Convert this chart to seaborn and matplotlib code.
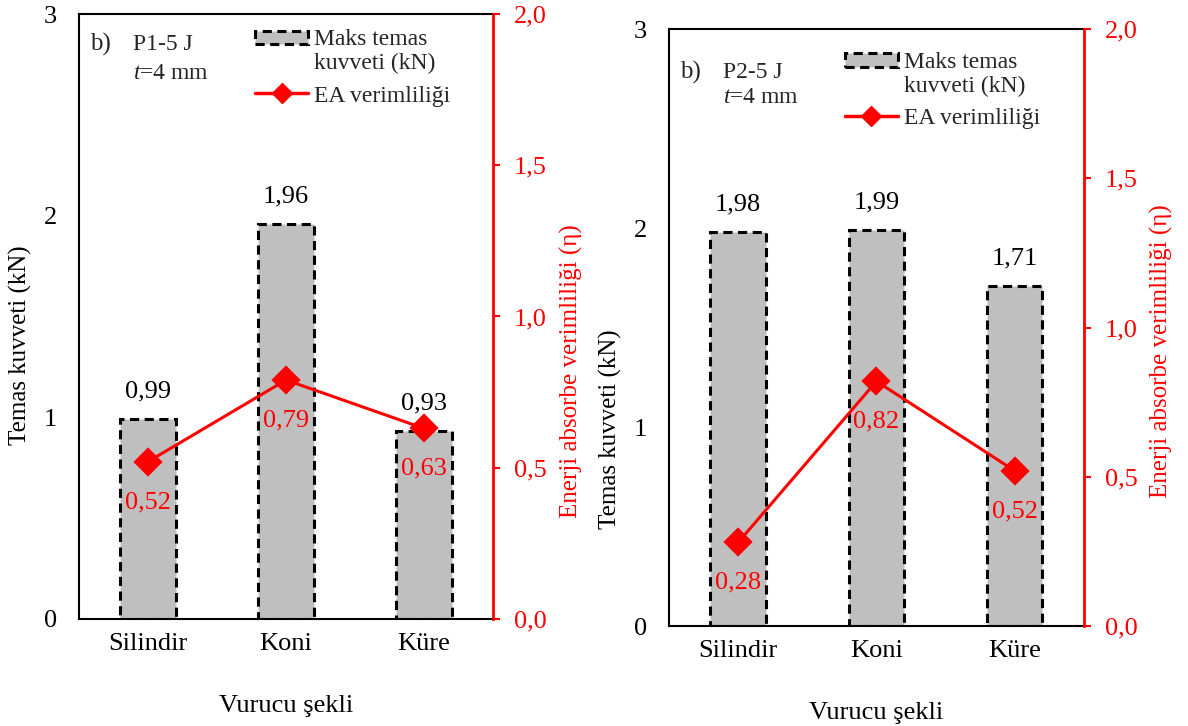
import matplotlib
matplotlib.use("Agg")
import matplotlib.pyplot as plt
import seaborn as sns
import pandas as pd
from matplotlib.patches import Patch, Rectangle
from matplotlib.lines import Line2D
from matplotlib.legend_handler import HandlerPatch

categories = ["Silindir", "Koni", "Küre"]
force_p1 = [0.99, 1.96, 0.93]
eff_p1 = [0.52, 0.79, 0.63]
force_p2 = [1.98, 1.99, 1.71]
eff_p2 = [0.28, 0.82, 0.52]
panel_titles = ["P1-5 J", "P2-5 J"]
force_ticks = [0, 1, 2, 3]
eff_ticks = [0.0, 0.5, 1.0, 1.5, 2.0]
legend_labels = ["Maks temas\nkuvveti (kN)", "EA verimliliği"]

sns.set_theme(style="white")
plt.rcParams["font.family"] = ["Liberation Serif", "DejaVu Serif"]
plt.rcParams["mathtext.fontset"] = "custom"
plt.rcParams["mathtext.rm"] = "Liberation Serif"
plt.rcParams["mathtext.it"] = "Liberation Serif:italic"

BAR_GRAY = "#BFBFBF"
RED = "#FF0000"
DASH = (0, (3, 1.8))
FS = 19
LFS = 18

fig = plt.figure(figsize=(11.88, 7.26), dpi=100)
positions = [[0.0665, 0.1474, 0.3485, 0.8333], [0.5631, 0.1377, 0.3493, 0.8223]]
legend_anchor = [(0.425, 0.975), (0.424, 0.962)]
text_y = [(0.949, 0.902), (0.928, 0.886)]
ylabel_left_pos = [(-0.114, 0.453), (-0.113, 0.33)]
ylabel_right_pos = [(1.162, 0.41), (1.159, 0.46)]


def fmt(v, d=2):
    return f"{v:.{d}f}".replace(".", ",")


class TopPatchHandler(HandlerPatch):
    def create_artists(self, legend, orig_handle, xdescent, ydescent, width, height,
                       fontsize, trans):
        h = height * 0.8
        p = Rectangle((-xdescent, -ydescent + 0.6 * fontsize + (height - h) / 2), width, h,
                      facecolor=orig_handle.get_facecolor(), edgecolor=orig_handle.get_edgecolor(),
                      linewidth=orig_handle.get_linewidth(), linestyle=orig_handle.get_linestyle())
        p.set_transform(trans)
        return [p]


for pos, forces, effs, title, lanc, ty, ylp, yrp in zip(
        positions, [force_p1, force_p2], [eff_p1, eff_p2], panel_titles, legend_anchor, text_y,
        ylabel_left_pos, ylabel_right_pos):
    ax = fig.add_axes(pos)
    df = pd.DataFrame({"shape": categories, "force": forces, "eff": effs})
    sns.barplot(data=df, x="shape", y="force", ax=ax, color=BAR_GRAY, saturation=1,
                width=0.4, edgecolor="black", linewidth=2.2, linestyle=DASH, errorbar=None)
    ax.set_ylim(0, 3)
    ax.set_yticks(force_ticks)
    ax.set_yticklabels([str(t) for t in force_ticks])
    ax.set_xlim(-0.5, 2.5)
    ax.tick_params(axis="y", length=0, pad=16, labelsize=FS, labelcolor="black")
    ax.tick_params(axis="x", length=0, pad=10, labelsize=FS, labelcolor="black")
    ax.set_xlabel("Vurucu şekli", fontsize=FS, labelpad=29, color="black")
    ax.set_ylabel("Temas kuvveti (kN)", fontsize=LFS, color="black")
    ax.yaxis.set_label_coords(*ylp)
    for s in ["left", "top", "bottom"]:
        ax.spines[s].set_color("black")
        ax.spines[s].set_linewidth(1.5)
    ax.spines["right"].set_visible(False)
    for patch, v in zip(ax.patches, forces):
        ax.annotate(fmt(v), (patch.get_x() + patch.get_width() / 2, patch.get_height()),
                    xytext=(0, 20), textcoords="offset points", ha="center", va="center",
                    fontsize=FS, color="black")

    ax2 = ax.twinx()
    sns.pointplot(data=df, x="shape", y="eff", ax=ax2, color=RED, markers="D",
                  linestyles="-", markersize=13, linewidth=2.2, errorbar=None)
    ax2.set_xlim(-0.5, 2.5)
    ax2.set_ylim(0, 2)
    ax2.set_yticks(eff_ticks)
    ax2.set_yticklabels([fmt(t, 1) for t in eff_ticks])
    ax2.tick_params(axis="y", which="both", right=True, length=5, width=1.5, direction="out",
                    color=RED, labelcolor=RED, labelsize=FS, pad=10)
    ax2.set_ylabel("Enerji absorbe verimliliği (η)", fontsize=LFS, color=RED)
    ax2.yaxis.set_label_coords(*yrp)
    for s in ["left", "top", "bottom"]:
        ax2.spines[s].set_visible(False)
    ax2.spines["right"].set_color(RED)
    ax2.spines["right"].set_linewidth(2)
    for i, v in enumerate(effs):
        ax2.annotate(fmt(v), (i, v), xytext=(0, -29), textcoords="offset points",
                     ha="center", va="center", fontsize=FS, color=RED)

    ax2.text(0.027, ty[0], "b)", transform=ax2.transAxes, fontsize=18, va="center", ha="left")
    ax2.text(0.13, ty[0], title, transform=ax2.transAxes, fontsize=17, va="center", ha="left")
    ax2.text(0.13, ty[1], "$t$=4 mm", transform=ax2.transAxes, fontsize=17, va="center", ha="left")

    bar_handle = Patch(facecolor=BAR_GRAY, edgecolor="black", linewidth=2.2, linestyle=DASH)
    line_handle = Line2D([], [], color=RED, marker="D", markersize=10, linewidth=2.5)
    ax2.legend([bar_handle, line_handle], legend_labels, loc="upper left", bbox_to_anchor=lanc,
               frameon=False, fontsize=17, borderpad=0, handlelength=2.25, handletextpad=0.25,
               labelspacing=0.45, borderaxespad=0,
               handler_map={Patch: TopPatchHandler()})

fig.savefig("out.png", dpi=100)
